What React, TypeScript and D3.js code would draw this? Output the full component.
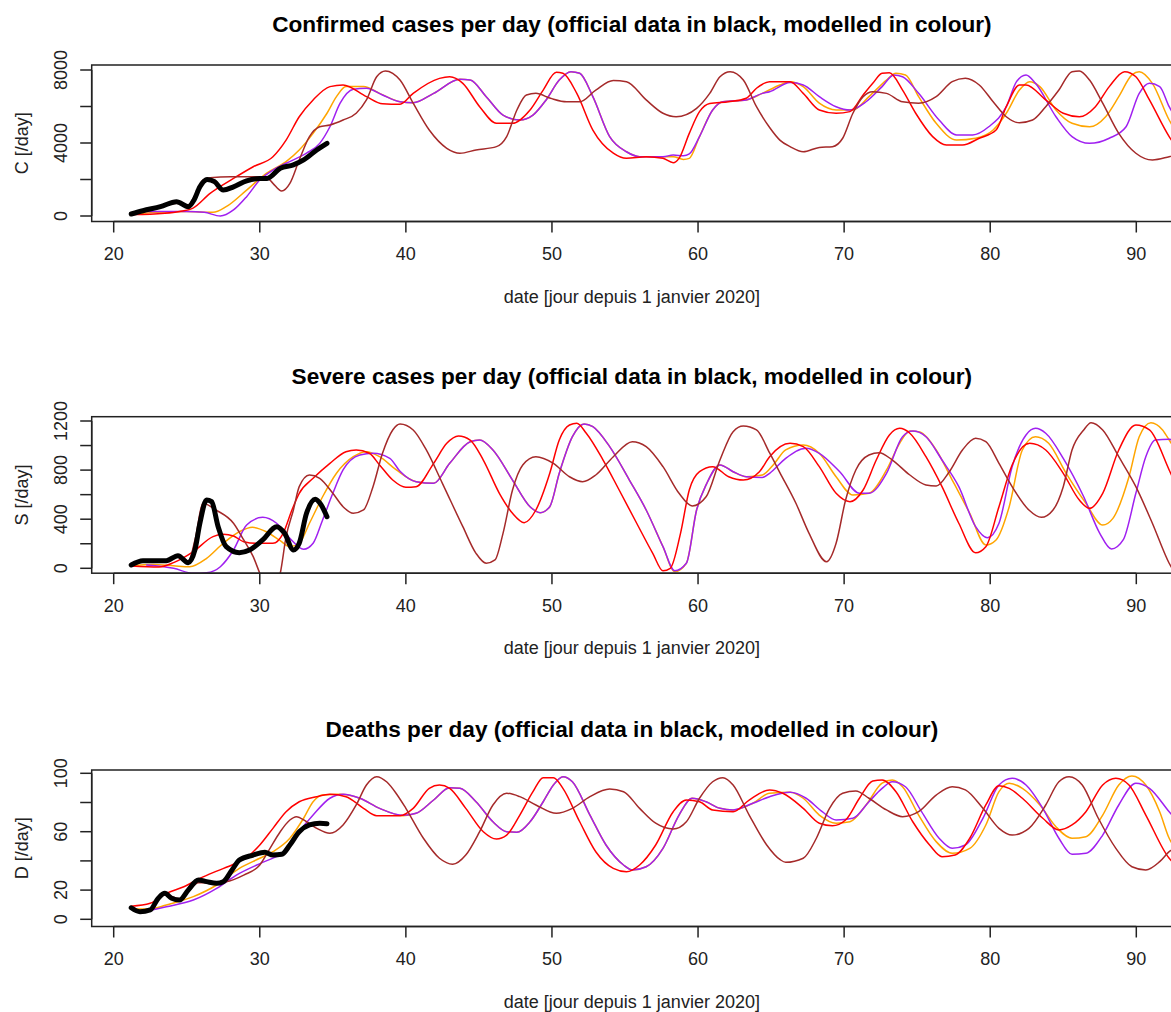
import React from 'react';
import * as d3 from 'd3';

type Pt = [number, number];

// ---------- axes / labels ----------
const dayTicks = [20, 30, 40, 50, 60, 70, 80, 90];
const titles = [
  'Confirmed cases per day (official data in black, modelled in colour)',
  'Severe cases per day (official data in black, modelled in colour)',
  'Deaths per day (official data in black, modelled in colour)',
];
const yTitles = ['C [/day]', 'S [/day]', 'D [/day]'];
const xTitle = 'date [jour depuis 1 janvier 2020]';
const cTicks = [0, 2000, 4000, 6000, 8000];
const cLabels = [0, 4000, 8000];
const sTicks = [0, 200, 400, 600, 800, 1000, 1200];
const sLabels = [0, 400, 800, 1200];
const dTicks = [0, 20, 40, 60, 80, 100];
const dLabels = [0, 20, 60, 100];

// ---------- Confirmed cases ----------
const cBlack: Pt[] = [[21.2,110],[22,290],[23.2,510],[24.3,780],[25.1,510],[25.5,880],[25.9,1600],[26.4,2000],[26.9,1880],[27.5,1420],[28.2,1600],[29.1,1930],[30,2060],[30.5,2060],[31.4,2610],[32.3,2800],[33,3070],[33.9,3620],[34.6,3980]];
const cRed: Pt[] = [[21.2,80],[22.5,100],[23.5,150],[24.5,250],[25.4,420],[26.6,1240],[28.2,2060],[29.55,2700],[30.9,3250],[31.8,4160],[32.7,5440],[33.65,6360],[34.8,7090],[35.7,7180],[37.3,6540],[38.4,6150],[39.6,6120],[40.5,6720],[42.3,7540],[43.0,7630],[43.9,7270],[45.05,5990],[46.2,5080],[47.3,5080],[48.5,5810],[49.4,6900],[50.3,7870],[50.75,7820],[51.7,6720],[52.8,4710],[54.2,3440],[55.1,3160],[56.45,3250],[57.6,3160],[58.3,2920],[58.7,3160],[59.4,4530],[60.1,5720],[60.8,6170],[62.1,6260],[63.3,6450],[64.0,7000],[64.9,7360],[66.3,7360],[67.2,6720],[68.3,5810],[69.45,5630],[70.4,5720],[71.3,6630],[71.96,7270],[72.6,7820],[73.1,7850],[74.0,6900],[74.9,5630],[76.06,4350],[77.0,3890],[78.1,3890],[79.25,4260],[80.4,4710],[81.1,5990],[82.0,7180],[82.45,7180],[83.8,6360],[85.0,5630],[86.1,5440],[87.2,5990],[88.15,7090],[89.2,7910],[89.97,7630],[90.9,6360],[92.25,4350],[93,3500]];
const cOrange: Pt[] = [[21.2,100],[23,200],[25,250],[26.8,200],[27.7,510],[29.1,1420],[30.45,2340],[31.8,2980],[32.7,3620],[33.65,4530],[34.6,5630],[35.25,6540],[35.9,7090],[37.1,7100],[38.2,6720],[39.6,6260],[40.5,6210],[41.9,6720],[43.7,7490],[44.4,7450],[45.5,6540],[46.65,5530],[47.8,5260],[48.7,5530],[49.6,6360],[50.5,7450],[51.3,7910],[51.9,7820],[52.8,6540],[53.95,4350],[55.1,3520],[56.0,3250],[57.6,3250],[58.3,3250],[59.0,3100],[59.4,3160],[60.1,4350],[61.0,5810],[61.7,6260],[63.3,6360],[64.4,6720],[65.6,7180],[66.3,7360],[67.2,7090],[68.3,6180],[69.45,5810],[70.6,5810],[71.7,6540],[72.9,7450],[73.55,7820],[74.2,7730],[75.1,6540],[76.3,5080],[77.7,4160],[79.0,4260],[80.2,4710],[81.1,5630],[82.0,6900],[82.7,7360],[83.4,7090],[84.5,5810],[85.6,5080],[86.8,4890],[87.9,5440],[88.8,6540],[89.7,7730],[90.2,7910],[91.1,7270],[92.25,5260],[93,4300]];
const cPurple: Pt[] = [[21.2,150],[22,250],[25,250],[26.2,200],[27.3,0],[28.2,330],[29.1,1060],[30,1970],[30.9,2520],[31.8,2890],[33.2,3440],[34.1,3980],[34.8,4890],[35.5,6180],[36.4,6940],[37.3,7000],[38.4,6630],[39.6,6260],[40.5,6210],[41.9,6720],[43.7,7490],[44.4,7450],[45.5,6540],[46.65,5530],[47.8,5260],[48.7,5530],[49.6,6360],[50.5,7450],[51.3,7910],[51.9,7820],[52.8,6540],[53.95,4350],[55.1,3520],[56.0,3250],[57.6,3250],[58.3,3340],[59.0,3300],[59.4,3400],[60.1,4350],[61.0,5810],[61.7,6260],[63.3,6360],[64.4,6720],[64.9,6810],[66.3,7310],[67.2,7180],[68.3,6540],[69.45,5990],[70.4,5810],[71.5,6260],[72.6,7090],[73.4,7730],[74.0,7630],[75.1,6720],[76.5,5260],[77.7,4440],[78.8,4440],[79.9,4890],[81.1,5990],[81.8,7360],[82.45,7730],[83.1,7270],[84.5,5440],[85.6,4350],[86.8,3980],[88.15,4260],[89.3,4890],[90.2,6720],[90.9,7270],[91.6,7090],[92.25,5990],[93,5000]];
const cBrown: Pt[] = [[21.2,110],[22,290],[23.2,500],[24.3,700],[25.1,600],[25.6,1200],[26.1,1970],[26.6,2100],[28,2150],[30,2150],[30.5,2100],[30.9,1790],[31.5,1370],[32.06,1790],[32.7,3070],[33.4,4350],[34.1,4890],[34.8,4990],[35.7,5260],[36.6,5630],[37.3,6360],[38.0,7630],[38.6,7950],[39.1,7820],[39.6,7450],[40.5,6180],[41.6,4710],[42.8,3710],[43.7,3440],[44.8,3620],[46.2,3800],[46.9,4350],[47.6,5810],[48.25,6630],[48.9,6720],[49.9,6450],[51.0,6260],[51.9,6260],[53.0,6900],[54.2,7420],[55.1,7360],[56.45,6360],[57.6,5630],[58.5,5440],[59.9,5900],[60.8,6720],[61.5,7630],[62.2,7910],[63.1,7450],[64.0,5990],[64.9,4850],[65.6,4160],[66.3,3800],[67.2,3520],[68.3,3760],[69.2,3800],[69.9,4260],[70.6,5630],[71.3,6540],[71.96,6810],[72.9,6720],[74.0,6260],[75.1,6180],[76.3,6540],[77.4,7360],[78.3,7550],[79.25,7180],[80.2,6260],[81.1,5440],[82.0,5110],[82.9,5260],[83.8,5990],[84.7,6900],[85.6,7910],[86.1,7950],[86.8,7450],[87.7,6180],[88.8,4530],[89.97,3440],[91.1,3070],[92.25,3250],[93,3400]];

// ---------- Severe cases ----------
const sBlack: Pt[] = [[21.2,27],[22,62],[23.6,62],[24.4,103],[25.1,46],[25.56,150],[25.9,367],[26.36,557],[26.7,543],[27.15,339],[27.7,176],[28.6,127],[29.3,149],[30.2,231],[31.15,339],[31.7,285],[32.3,149],[32.7,204],[33.2,448],[33.8,562],[34.2,516],[34.6,420]];
const sRed: Pt[] = [[21.2,18],[23.1,10],[24.1,46],[25.45,136],[26.8,258],[27.5,277],[28.2,263],[28.9,217],[29.8,204],[30.9,204],[31.6,285],[32.2,475],[32.7,611],[33.65,733],[34.8,855],[35.9,950],[36.6,964],[37.5,937],[38.2,842],[39.1,719],[40.0,660],[40.7,665],[41.9,855],[42.8,1018],[43.6,1078],[44.4,1045],[45.3,882],[46.4,611],[47.3,448],[48.1,372],[48.9,475],[49.85,774],[50.5,1045],[51.2,1167],[51.7,1181],[52.35,1100],[53.5,882],[54.6,638],[55.8,367],[56.9,122],[57.6,-20],[58.1,0],[58.8,285],[59.4,638],[60.1,787],[61.0,828],[62.1,746],[63.1,719],[64.2,787],[64.9,909],[66.3,1018],[67.2,991],[68.3,828],[69.45,611],[70.4,543],[71.3,638],[72.2,882],[73.1,1086],[73.8,1140],[74.5,1100],[75.6,909],[76.7,665],[77.85,367],[79.0,127],[79.7,176],[80.6,502],[81.5,842],[82.7,1018],[83.8,964],[85.0,774],[86.1,556],[86.8,489],[87.7,611],[88.8,964],[89.97,1167],[90.9,1127],[92.25,801],[93,600]];
const sOrange: Pt[] = [[21.2,20],[22.7,30],[24.1,20],[25.2,13],[26.36,81],[27.5,204],[28.6,298],[29.5,334],[30.45,298],[31.4,225],[32.06,176],[32.7,204],[33.4,367],[34.3,583],[35.25,774],[36.4,909],[37.3,950],[38.2,909],[39.35,801],[40.7,705],[41.9,692],[43.0,855],[44.4,1031],[45.05,1045],[45.96,964],[47.3,719],[48.5,502],[49.2,453],[49.85,502],[50.5,774],[51.4,1072],[52.2,1176],[52.8,1154],[53.95,991],[55.3,719],[56.45,475],[57.6,176],[58.4,-27],[59.2,41],[59.9,475],[60.6,692],[61.5,842],[62.4,787],[63.3,746],[64.4,760],[65.2,850],[66.0,964],[67.2,1004],[68.3,937],[69.45,746],[70.6,597],[71.7,611],[72.9,801],[73.8,1018],[74.5,1118],[75.1,1113],[76.3,964],[77.4,719],[78.6,448],[79.7,190],[80.4,231],[81.3,502],[82.2,964],[83.1,1072],[84.0,1018],[85.2,774],[86.55,530],[87.7,353],[88.4,407],[89.5,746],[90.2,1072],[91.0,1186],[91.8,1127],[92.25,1045],[93,900]];
const sPurple: Pt[] = [[22.26,27],[24.1,0],[25.45,-41],[26.36,-36],[27.3,13],[28.2,149],[29.1,353],[30.2,415],[31.15,367],[32.06,244],[33.0,155],[33.65,204],[34.3,394],[35.0,611],[35.7,801],[36.85,923],[37.75,937],[38.9,896],[39.6,790],[40.7,705],[41.9,692],[43.0,855],[44.4,1031],[45.05,1045],[45.96,964],[47.3,719],[48.5,502],[49.2,453],[49.85,502],[50.5,774],[51.4,1072],[52.2,1176],[52.8,1154],[53.95,991],[55.3,719],[56.45,475],[57.6,176],[58.4,-20],[59.2,41],[59.9,475],[60.6,692],[61.5,842],[62.4,787],[63.3,746],[64.4,740],[64.9,774],[66.0,896],[67.4,978],[68.3,937],[69.7,787],[71.05,611],[71.7,611],[72.9,774],[74.0,1072],[74.7,1118],[75.6,1072],[76.7,882],[77.85,665],[79.0,339],[79.8,249],[80.6,367],[81.5,828],[82.45,1086],[83.1,1140],[83.8,1100],[85.0,896],[86.4,583],[87.5,285],[88.3,157],[89.1,231],[89.97,611],[90.65,909],[91.3,1045],[92.25,1051],[93,1000]];
const sBrown: Pt[] = [[21.2,27],[22,62],[23.6,62],[24.4,103],[25.1,60],[25.6,250],[26.1,530],[27.0,475],[28.2,367],[28.9,231],[29.55,95],[30.0,-40],[30.7,-220],[31.4,-40],[31.8,258],[32.3,475],[32.7,665],[33.4,760],[34.1,733],[35.0,611],[35.7,502],[36.4,448],[37.1,475],[37.75,665],[38.4,937],[39.1,1127],[39.6,1176],[40.5,1127],[41.4,964],[42.5,692],[43.9,339],[44.8,122],[45.5,41],[46.1,68],[46.65,285],[47.3,638],[48.0,842],[48.9,909],[50.1,855],[51.2,746],[52.1,705],[53.0,760],[54.2,909],[55.5,1031],[56.45,991],[57.6,828],[58.7,611],[59.6,508],[60.55,583],[61.5,882],[62.4,1113],[63.1,1159],[64.0,1127],[64.9,940],[65.6,780],[66.7,530],[67.6,285],[68.8,54],[69.45,204],[70.1,556],[70.8,801],[71.7,923],[72.4,942],[73.3,882],[74.5,760],[75.6,679],[76.3,670],[77.2,787],[78.1,964],[79.0,1059],[79.7,1031],[80.6,855],[81.5,665],[82.65,475],[83.5,415],[84.3,475],[85.0,665],[85.6,964],[86.4,1127],[86.9,1186],[87.7,1127],[88.8,909],[89.97,665],[91.1,367],[92.25,41],[93,-100]];

// ---------- Deaths ----------
const dBlack: Pt[] = [[21.2,7.9],[21.8,5.2],[22.5,6.4],[23.05,14.4],[23.5,17.8],[23.97,14.4],[24.5,13.2],[25.1,20],[25.8,26.9],[26.36,25.8],[27.05,24.7],[27.5,25.8],[28.1,33.8],[28.6,40.6],[29.55,44],[30.35,45.9],[30.9,44],[31.5,44.5],[32.06,50.9],[32.7,60],[33.4,64.6],[34.1,65.8],[34.6,65.5]];
const dRed: Pt[] = [[21.2,9],[22.5,11],[23.6,17.8],[24.8,22.3],[25.9,28],[27.05,33],[28.2,37.7],[29.3,44],[30.0,50.9],[30.9,62.3],[31.8,73.7],[32.7,80.5],[33.9,84],[34.8,85.6],[35.9,84],[37.1,76],[38.0,71],[39.6,71],[40.5,76],[41.6,89.7],[42.3,92],[43.0,89.7],[44.1,76],[45.3,60],[46.2,55],[46.9,57.7],[47.8,71.4],[48.7,87.4],[49.4,97],[50.1,97],[50.75,89.7],[51.9,66.8],[53.0,46.3],[54.2,34.9],[55.1,32.6],[56.0,37.2],[57.1,50.9],[58.3,73.7],[59.2,81.7],[60.1,80.5],[61.0,74.9],[62.4,73.7],[63.5,81.7],[64.9,88.6],[65.8,86.3],[67.2,76],[68.3,65.8],[69.2,64.1],[70.1,68],[71.05,82.9],[71.96,94.7],[72.6,95.4],[73.55,87.4],[74.7,66.8],[75.85,50.9],[76.7,42.9],[77.6,44],[78.6,55.5],[79.7,78.3],[80.6,91.5],[81.3,89.7],[82.2,82.9],[83.6,69.2],[84.7,61.2],[85.6,64.6],[86.55,73.7],[87.7,92],[88.6,96.6],[89.5,92],[90.65,71.4],[92.25,41.8],[93,35]];
const dOrange: Pt[] = [[21.2,7],[22.5,7],[23.6,9.8],[25.45,15.5],[27.05,23.5],[28.6,34.9],[30.0,41.8],[30.9,46.3],[32.06,55.5],[33.0,69.2],[33.65,80.5],[34.3,85.1],[35.5,85.6],[36.85,82.9],[38.2,76],[39.8,71],[40.7,72.6],[41.9,81.7],[43.0,90.1],[43.7,89.7],[44.8,80.5],[45.96,66.8],[46.9,60],[47.6,59.6],[48.5,66.8],[49.4,80.5],[50.1,92],[50.75,97.7],[51.4,94.2],[52.6,71.4],[53.7,50.9],[54.9,37.2],[55.5,33.8],[56.45,36],[57.6,48.6],[58.7,71.4],[59.6,82.9],[60.55,80.5],[61.5,76],[62.4,74.9],[63.75,79.5],[64.9,86.3],[66.3,87],[67.2,82.9],[68.3,71.4],[69.45,65.8],[70.4,66.8],[71.5,78.3],[72.6,93.2],[73.3,95.4],[74.0,90.8],[75.1,71.4],[76.3,53.2],[77.4,45.2],[78.6,48.6],[79.7,64.6],[80.6,87.4],[81.3,93.2],[82.2,89.7],[83.4,78.3],[84.5,63.4],[85.6,55.5],[86.55,56.6],[87.7,71.4],[88.8,92],[89.7,98.2],[90.65,92],[91.6,73.7],[92.25,55.5],[93,45]];
const dPurple: Pt[] = [[22.0,5.2],[23.6,8.6],[25.45,13.2],[27.05,21.2],[28.4,30.3],[29.8,37.2],[31.15,42.9],[31.7,45.2],[32.7,60],[33.65,71.4],[34.8,82.9],[35.7,85.6],[36.85,82.9],[38.2,76],[39.8,71.2],[40.7,72.6],[41.9,81.7],[43.0,90.1],[43.7,89.7],[44.8,80.5],[45.96,66.8],[46.9,60],[47.6,59.6],[48.5,66.8],[49.4,80.5],[50.1,92],[50.75,97.7],[51.4,94.2],[52.6,71.4],[53.7,50.9],[54.9,37.2],[55.5,33.8],[56.45,36],[57.6,48.6],[58.7,71.4],[59.6,82.9],[60.55,80.5],[61.5,76],[62.4,74.9],[63.75,79.5],[64.9,84],[66.3,87],[67.4,82.9],[68.5,73.7],[69.45,68],[70.6,69.2],[71.7,80.5],[72.6,89.7],[73.3,94.2],[74.2,90.8],[75.3,73.7],[76.5,55.5],[77.4,48.6],[78.3,50.9],[79.5,69.2],[80.6,92],[81.5,96.6],[82.45,92],[83.6,76],[84.7,55.5],[85.6,44.5],[86.55,45.2],[87.7,57.7],[88.8,78.3],[89.97,93.2],[90.9,89.7],[92.25,73.7],[93,65]];
const dBrown: Pt[] = [[21.2,7.9],[21.8,5.2],[22.5,6.4],[23.05,14],[23.5,17],[24.5,14],[25.1,19],[25.8,25],[26.5,25],[27.7,25.8],[28.9,30.3],[30.0,37.2],[30.7,48.6],[31.4,60],[32.06,68],[32.5,70.3],[33.2,66.8],[33.9,62.3],[34.8,58.9],[35.7,64.6],[36.6,78.3],[37.3,92],[38.0,97.7],[38.7,94],[39.35,86],[40.0,76],[41.2,55.5],[42.3,41.8],[43.2,37.7],[44.1,44],[45.05,60],[45.96,78.3],[46.9,86.3],[47.8,84],[48.9,78.3],[50.3,72.6],[51.4,76],[52.6,84],[53.95,89.2],[54.9,87.4],[56.0,76],[57.1,65.8],[58.3,61.8],[59.2,66.8],[60.1,82.9],[61.0,94.2],[61.7,97],[62.4,92],[63.5,71.4],[64.7,50.9],[65.6,41],[66.0,39],[67.2,41.8],[68.1,55.5],[69.0,76],[69.9,86.3],[70.8,87.9],[71.7,82.9],[72.9,74.9],[74.0,70.3],[75.1,73.7],[76.3,85.1],[77.4,90.8],[78.3,88.6],[79.5,76],[80.6,62.3],[81.5,57.7],[82.65,62.3],[83.8,78.3],[84.7,94.2],[85.4,97.7],[86.3,92],[87.4,69.2],[88.6,48.6],[89.7,36],[90.65,33.8],[91.6,39.5],[92.25,46.3],[93,50]];

const COLORS = { black: '#000000', red: '#FF0000', orange: '#FFA500', purple: '#A020F0', brown: '#A52A2A' };

const FONT = '"Liberation Sans", Arial, Helvetica, sans-serif';

// layout
const W = 1171;
const H = 1012;
const plotLeft = 91.7;
const plotRight = 1172;
const boxH = 156.5;

interface PanelDef {
  title: string;
  yTitle: string;
  ticks: number[];
  labels: number[];
  top: number;
  y0: number;
  yMaxOff: number;
  yMax: number;
  series: { data: Pt[]; color: string; width: number }[];
}

const panels: PanelDef[] = [
  {
    title: titles[0], yTitle: yTitles[0], ticks: cTicks, labels: cLabels, top: 65, y0: 151, yMaxOff: 5, yMax: 8000,
    series: [
      { data: cOrange, color: COLORS.orange, width: 1.5 },
      { data: cPurple, color: COLORS.purple, width: 1.5 },
      { data: cRed, color: COLORS.red, width: 1.5 },
      { data: cBrown, color: COLORS.brown, width: 1.5 },
      { data: cBlack, color: COLORS.black, width: 5 },
    ],
  },
  {
    title: titles[1], yTitle: yTitles[1], ticks: sTicks, labels: sLabels, top: 416.7, y0: 151.6, yMaxOff: 4.3, yMax: 1200,
    series: [
      { data: sOrange, color: COLORS.orange, width: 1.5 },
      { data: sPurple, color: COLORS.purple, width: 1.5 },
      { data: sRed, color: COLORS.red, width: 1.5 },
      { data: sBrown, color: COLORS.brown, width: 1.5 },
      { data: sBlack, color: COLORS.black, width: 5 },
    ],
  },
  {
    title: titles[2], yTitle: yTitles[2], ticks: dTicks, labels: dLabels, top: 770, y0: 149.3, yMaxOff: 3.3, yMax: 100,
    series: [
      { data: dOrange, color: COLORS.orange, width: 1.5 },
      { data: dPurple, color: COLORS.purple, width: 1.5 },
      { data: dRed, color: COLORS.red, width: 1.5 },
      { data: dBrown, color: COLORS.brown, width: 1.5 },
      { data: dBlack, color: COLORS.black, width: 5 },
    ],
  },
];

const x = d3.scaleLinear().domain([20, 90]).range([113.7, 1136.3]);

function Panel({ p, idx }: { p: PanelDef; idx: number }) {
  const top = p.top;
  const bottom = top + boxH;
  const y = d3.scaleLinear().domain([0, p.yMax]).range([top + p.y0, top + p.yMaxOff]);
  const line = d3.line<Pt>().x((d) => x(d[0])).y((d) => y(d[1])).curve(d3.curveMonotoneX);
  const cx = (plotLeft + plotRight) / 2;
  const clipId = `clip-${idx}`;
  return (
    <g>
      <defs>
        <clipPath id={clipId}>
          <rect x={plotLeft} y={top} width={plotRight - plotLeft} height={boxH} />
        </clipPath>
      </defs>
      <text x={cx} y={top - 33} textAnchor="middle" fontFamily={FONT} fontWeight="bold" fontSize={22.6} fill="#000">
        {p.title}
      </text>
      <g clipPath={`url(#${clipId})`}>
        {p.series.map((s, i) => (
          <path key={i} d={line(s.data) || ''} fill="none" stroke={s.color} strokeWidth={s.width}
            strokeLinejoin="round" strokeLinecap="round" />
        ))}
      </g>
      <rect x={plotLeft} y={top} width={plotRight - plotLeft + 10} height={boxH} fill="none" stroke="#222" strokeWidth={1.5} />
      <line x1={plotLeft} x2={plotLeft} y1={y(0)} y2={y(p.yMax)} stroke="#222" strokeWidth={1.5} />
      {p.ticks.map((t) => (
        <line key={t} x1={plotLeft - 11.5} x2={plotLeft} y1={y(t)} y2={y(t)} stroke="#222" strokeWidth={1.5} />
      ))}
      {p.labels.map((t) => (
        <text key={t} transform={`translate(67,${y(t)}) rotate(-90)`} textAnchor="middle" fontFamily={FONT} fontSize={18} fill="#222">
          {t}
        </text>
      ))}
      <text transform={`translate(28,${(top + bottom) / 2}) rotate(-90)`} textAnchor="middle" fontFamily={FONT} fontSize={18} fill="#222">
        {p.yTitle}
      </text>
      <line x1={x(20)} x2={x(90)} y1={bottom} y2={bottom} stroke="#222" strokeWidth={1.5} />
      {dayTicks.map((t) => (
        <g key={t}>
          <line x1={x(t)} x2={x(t)} y1={bottom} y2={bottom + 11} stroke="#222" strokeWidth={1.5} />
          <text x={x(t)} y={bottom + 38.5} textAnchor="middle" fontFamily={FONT} fontSize={18} fill="#222">
            {t}
          </text>
        </g>
      ))}
      <text x={cx} y={bottom + 81} textAnchor="middle" fontFamily={FONT} fontSize={18} fill="#222">
        {xTitle}
      </text>
    </g>
  );
}

export default function App() {
  return (
    <svg width={W} height={H} viewBox={`0 0 ${W} ${H}`} style={{ position: 'absolute', left: 0, top: 0, display: 'block', background: '#fff' }}>
      <rect x={0} y={0} width={W} height={H} fill="#fff" />
      {panels.map((p, i) => (
        <Panel key={i} p={p} idx={i} />
      ))}
    </svg>
  );
}
